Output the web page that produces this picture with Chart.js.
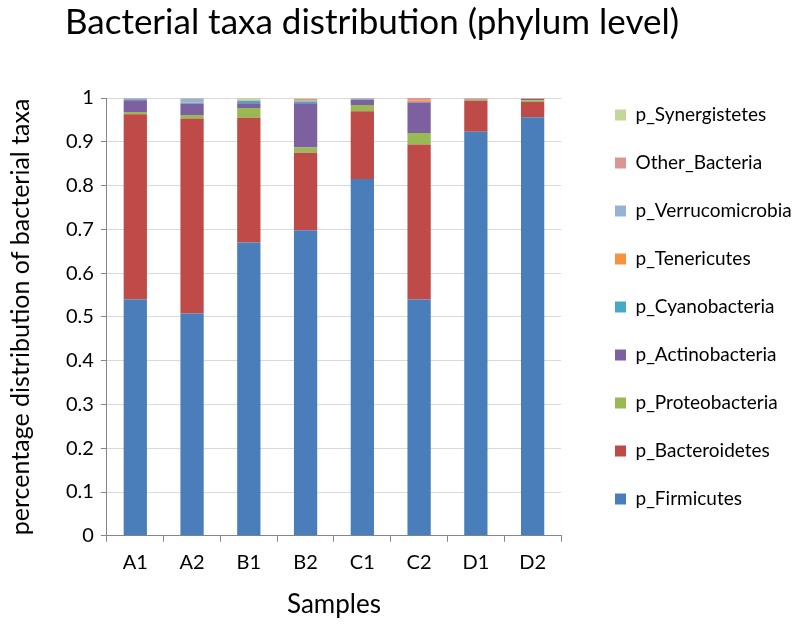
<!DOCTYPE html>
<html>
<head>
<meta charset="utf-8">
<script src="https://cdn.jsdelivr.net/npm/chart.js@4"></script>
<style>
  html, body { margin: 0; padding: 0; background: #fff; }
  #wrap { width: 800px; height: 626px; }
</style>
</head>
<body>
<div id="wrap"><canvas id="chartCanvas" width="800" height="626"></canvas></div>
<script>
const samples = ["A1", "A2", "B1", "B2", "C1", "C2", "D1", "D2"];

const firmicutes      = [0.540, 0.508, 0.670, 0.698, 0.815, 0.540, 0.923, 0.956];
const bacteroidetes   = [0.423, 0.445, 0.285, 0.177, 0.155, 0.354, 0.071, 0.035];
const proteobacteria  = [0.005, 0.008, 0.022, 0.012, 0.014, 0.026, 0.002, 0.004];
const actinobacteria  = [0.027, 0.026, 0.011, 0.101, 0.012, 0.070, 0.001, 0.003];
const cyanobacteria   = [0.002, 0.002, 0.005, 0.004, 0.001, 0.001, 0.000, 0.000];
const tenericutes     = [0.001, 0.001, 0.001, 0.001, 0.001, 0.003, 0.001, 0.001];
const verrucomicrobia = [0.001, 0.008, 0.001, 0.001, 0.001, 0.000, 0.000, 0.000];
const otherBacteria   = [0.001, 0.001, 0.001, 0.004, 0.001, 0.006, 0.001, 0.001];
const synergistetes   = [0.000, 0.001, 0.004, 0.002, 0.000, 0.000, 0.001, 0.000];

const yTicks = [0, 0.1, 0.2, 0.3, 0.4, 0.5, 0.6, 0.7, 0.8, 0.9, 1];

const FONT = "Lato, 'Open Sans', sans-serif";

function makeSet(label, data, color) {
  return {
    label: label,
    data: data,
    backgroundColor: color,
    borderWidth: 0,
    barPercentage: 0.41,
    categoryPercentage: 1.0,
  };
}

// nudge title and legend after layout: the original has the title left of
// centre and a wider gap before the legend
const nudge = {
  id: "nudge",
  afterLayout(chart) {
    const t = chart.titleBlock;
    if (t) {
      t.left = 0;
      t.right = 744;
    }
    const lg = chart.legend;
    if (lg) {
      lg.left += 25;
      lg.right = 800;
      lg.top -= 6;
      lg.bottom -= 6;
    }
  },
};

const ctx = document.getElementById("chartCanvas").getContext("2d");
const chart = new Chart(ctx, {
  type: "bar",
  data: {
    labels: samples,
    datasets: [
      makeSet("p_Firmicutes", firmicutes, "#4A7EBB"),
      makeSet("p_Bacteroidetes", bacteroidetes, "#BE4B48"),
      makeSet("p_Proteobacteria", proteobacteria, "#98B954"),
      makeSet("p_Actinobacteria", actinobacteria, "#7D60A0"),
      makeSet("p_Cyanobacteria", cyanobacteria, "#46AAC5"),
      makeSet("p_Tenericutes", tenericutes, "#F69240"),
      makeSet("p_Verrucomicrobia", verrucomicrobia, "#95B3D7"),
      makeSet("Other_Bacteria", otherBacteria, "#D99694"),
      makeSet("p_Synergistetes", synergistetes, "#C3D69B"),
    ],
  },
  plugins: [nudge],
  options: {
    animation: false,
    responsive: false,
    layout: { padding: { top: 0, left: 6, right: 54, bottom: 0 } },
    plugins: {
      title: {
        display: true,
        text: "Bacterial taxa distribution (phylum level)",
        fullSize: false,
        color: "#000",
        font: { family: FONT, size: 35, weight: "normal" },
        padding: { top: 2, bottom: 54 },
      },
      tooltip: { enabled: false },
      legend: {
        position: "right",
        reverse: true,
        labels: {
          boxWidth: 11,
          boxHeight: 11,
          padding: 29,
          color: "#000",
          font: { family: FONT, size: 19 },
        },
      },
    },
    scales: {
      x: {
        stacked: true,
        offset: true,
        grid: {
          offset: true,
          drawOnChartArea: false,
          drawTicks: true,
          tickLength: 6,
          color: "#868686",
        },
        border: { display: true, color: "#868686" },
        ticks: { color: "#000", font: { family: FONT, size: 20 }, padding: 9 },
        title: {
          display: true,
          text: "Samples",
          color: "#000",
          font: { family: FONT, size: 26 },
          padding: { top: 5, bottom: 6 },
        },
      },
      y: {
        stacked: true,
        min: 0,
        max: 1,
        afterBuildTicks(axis) {
          axis.ticks = yTicks.map((v) => ({ value: v }));
        },
        grid: { color: "#D9D9D9", tickLength: 6, tickColor: "#868686" },
        border: { display: true, color: "#868686" },
        ticks: {
          color: "#000",
          font: { family: FONT, size: 20 },
          padding: 7,
          callback: (v) => String(Math.round(v * 10) / 10),
        },
        title: {
          display: true,
          text: "percentage distribution of bacterial taxa",
          color: "#000",
          font: { family: FONT, size: 25 },
          padding: { top: 0, bottom: 23 },
        },
      },
    },
  },
});
</script>
</body>
</html>
